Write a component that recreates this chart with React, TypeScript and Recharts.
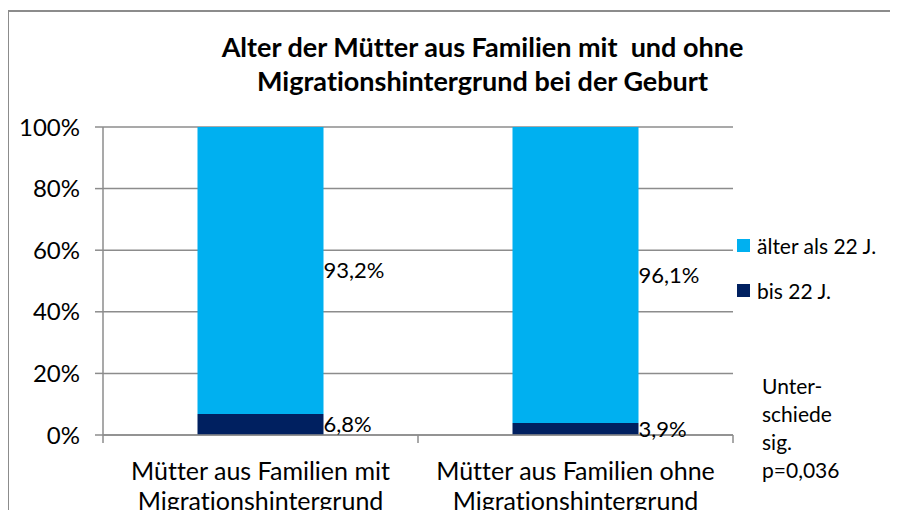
import React from "react";
import { BarChart, Bar, XAxis, YAxis, CartesianGrid, LabelList, Legend } from "recharts";

const categories = ["Mütter aus Familien mit\nMigrationshintergrund", "Mütter aus Familien ohne\nMigrationshintergrund"];
const bis22 = [6.8, 3.9];
const aelter22 = [93.2, 96.1];
const yTicks = [0, 20, 40, 60, 80, 100];
const seriesNames = { bis: "bis 22 J.", aelter: "älter als 22 J." };
const titleLines = ["Alter der Mütter aus Familien mit  und ohne", "Migrationshintergrund bei der Geburt"];
const noteLines = ["Unter-", "schiede", "sig.", "p=0,036"];

const data = categories.map((c, i) => ({ cat: c, bis: bis22[i], aelter: aelter22[i] }));

const FONT = "Lato, 'Open Sans', sans-serif";
const GRAY = "#8c8c8c";
const LIGHT = "#00B0F0";
const DARK = "#002060";
const W = 898;
const H = 518;
const LEGEND_W = 160;
const M = { top: 127, right: 165 - LEGEND_W, bottom: 3, left: 8 };
const Y_W = 95;
const X_H = 80;
const PLOT_W = W - M.left - Y_W - 165;
const BAND = PLOT_W / categories.length;
const TICK_MARGIN = 45;
const NOLIG = { fontVariantLigatures: "none" as const };

const fmt = (v: number) => String(v).replace(".", ",") + "%";

const CatTick = (props: any) => {
  const { x, y, payload, index } = props;
  const lines = String(payload.value).split("\n");
  const axisY = y - TICK_MARGIN;
  return (
    <g>
      <line x1={x - BAND / 2} x2={x - BAND / 2} y1={axisY} y2={axisY + 8} stroke={GRAY} strokeWidth={1.5} />
      {index === categories.length - 1 && (
        <line x1={x + BAND / 2} x2={x + BAND / 2} y1={axisY} y2={axisY + 8} stroke={GRAY} strokeWidth={1.5} />
      )}
      {lines.map((l, i) => (
        <text key={i} x={x} y={y + i * 30} textAnchor="middle" fontFamily={FONT} fontSize={25} fill="#000" style={NOLIG}>
          {l}
        </text>
      ))}
    </g>
  );
};

const LegendContent = (props: any) => {
  const items = [...(props.payload || [])].reverse();
  return (
    <div style={{ fontFamily: FONT, fontSize: 21, ...NOLIG }}>
      {items.map((it: any, i: number) => (
        <div key={i} style={{ display: "flex", alignItems: "center", height: 45 }}>
          <span style={{ width: 13, height: 13, background: it.color, display: "inline-block", marginRight: 7, flexShrink: 0 }} />
          <span style={{ color: "#000", whiteSpace: "nowrap" }}>{it.value}</span>
        </div>
      ))}
    </div>
  );
};

export default function App() {
  return (
    <div style={{ position: "relative", width: W, height: H, margin: -8, overflow: "hidden", background: "#fff" }}>
      <div
        style={{
          position: "absolute",
          left: 7,
          top: 10,
          width: 1000,
          height: 1000,
          borderLeft: `2px solid ${GRAY}`,
          borderTop: `2px solid ${GRAY}`,
        }}
      />
      <div
        style={{
          position: "absolute",
          left: 0,
          width: 965,
          top: 30,
          textAlign: "center",
          fontFamily: FONT,
          fontWeight: 700,
          fontSize: 27,
          lineHeight: "34px",
          color: "#000",
          ...NOLIG,
        }}
      >
        {titleLines.map((t, i) => (
          <div key={i} style={{ whiteSpace: "pre" }}>{t}</div>
        ))}
      </div>
      <div style={{ position: "absolute", left: 0, top: 0 }}>
        <BarChart width={W} height={H} data={data} margin={M} barCategoryGap="30%">
          <CartesianGrid horizontal={true} vertical={false} stroke={GRAY} strokeWidth={1.5} />
          <XAxis
            dataKey="cat"
            height={X_H}
            axisLine={{ stroke: GRAY, strokeWidth: 1.5 }}
            tickLine={false}
            tickSize={0}
            tickMargin={TICK_MARGIN}
            tick={<CatTick />}
            interval={0}
          />
          <YAxis
            width={Y_W}
            domain={[0, 100]}
            ticks={yTicks}
            tickFormatter={(v: number) => v + "%"}
            axisLine={{ stroke: GRAY, strokeWidth: 1.5 }}
            tickLine={{ stroke: GRAY, strokeWidth: 1.5 }}
            tickSize={8}
            tickMargin={15}
            tick={{ fontFamily: FONT, fontSize: 24, fill: "#000" }}
          />
          <Legend
            layout="vertical"
            align="right"
            verticalAlign="top"
            content={<LegendContent />}
            wrapperStyle={{ left: 737, top: 223, width: LEGEND_W }}
          />
          <Bar dataKey="bis" name={seriesNames.bis} stackId="a" fill={DARK} isAnimationActive={false}>
            <LabelList dataKey="bis" position="right" offset={0} formatter={fmt} fill="#000" fontFamily={FONT} fontSize={22} />
          </Bar>
          <Bar dataKey="aelter" name={seriesNames.aelter} stackId="a" fill={LIGHT} isAnimationActive={false}>
            <LabelList dataKey="aelter" position="right" offset={0} formatter={fmt} fill="#000" fontFamily={FONT} fontSize={22} />
          </Bar>
        </BarChart>
      </div>
      <div
        style={{
          position: "absolute",
          left: 762,
          top: 372,
          fontFamily: FONT,
          fontSize: 21,
          lineHeight: "28px",
          color: "#000",
        }}
      >
        {noteLines.map((t, i) => (
          <div key={i}>{t}</div>
        ))}
      </div>
    </div>
  );
}
